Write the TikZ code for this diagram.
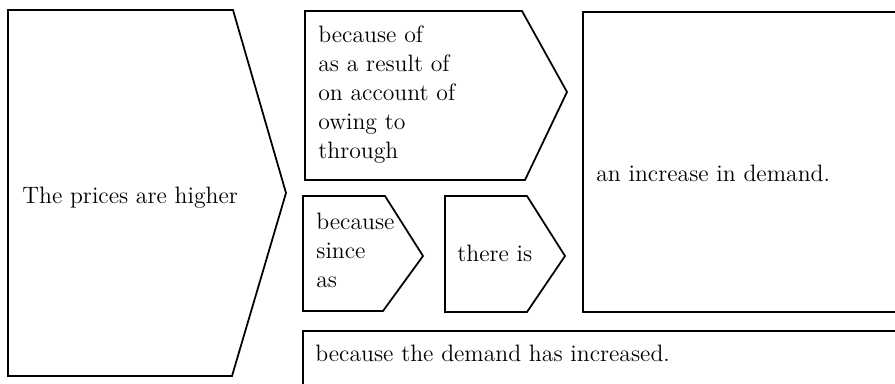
\documentclass[tikz,border=0pt]{standalone}
\usepackage{tikz}
\usetikzlibrary{positioning}
\tikzset{
  % outline of a box or arrow-shaped box
  outline/.style={draw=black, line width=1pt, line join=miter},
  % text placed inside a box
  lbl/.style={font=\fontsize{13.5}{16.5}\selectfont, inner sep=0pt, align=left},
}

\begin{document}
\begin{tikzpicture}[x=0.02cm, y=-0.02cm]
\useasboundingbox (0,0) rectangle (895,384);

% big arrow on the left
\draw[outline] (8,10) -- (233,10) -- (286,193) -- (232,376) -- (8,376) -- cycle;
\node[lbl, anchor=base west] (prices) at (22,204) {The prices are higher};

% upper arrow: prepositions
\draw[outline] (305,11) -- (522,11) -- (567,92) -- (525,180) -- (305,180) -- cycle;
\node[lbl, anchor=west] (preps) at (318,95) {because of\\as a result of\\on account of\\owing to\\through};

% small arrows: conjunctions and verb
\draw[outline] (303,196) -- (385,196) -- (423,256) -- (383,311) -- (303,311) -- cycle;
\node[lbl, anchor=west] (conjs) at (316,250) {because\\since\\as};
\draw[outline] (445,196) -- (527,196) -- (565,256) -- (527,312) -- (445,312) -- cycle;
\node[lbl, anchor=base west] (thereis) at (457,262) {there is};

% noun phrase box
\draw[outline] (583,12) rectangle (905,312);
\node[lbl, anchor=base west] (noun) at (596,182) {an increase in demand.};

% clause box
\draw[outline] (303,331) rectangle (905,394);
\node[lbl, anchor=base west] (clause) at (315,362) {because the demand has increased.};

\end{tikzpicture}
\end{document}
